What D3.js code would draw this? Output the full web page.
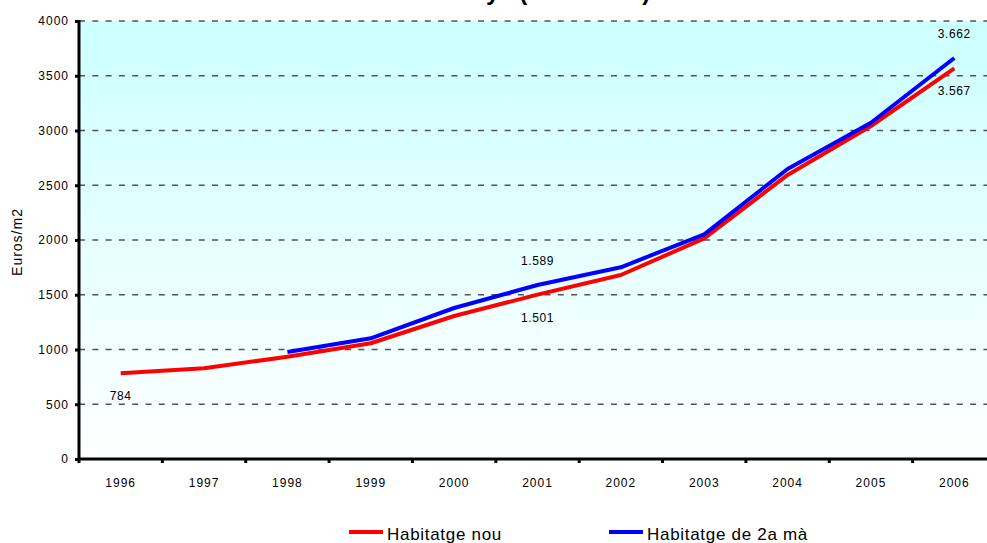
<!DOCTYPE html>
<html>
<head>
<meta charset="utf-8">
<script src="https://cdn.jsdelivr.net/npm/d3@7"></script>
<style>
  body { margin: 0; background: #fff; }
  svg { display: block; font-family: Arial, "Liberation Sans", sans-serif; }
</style>
</head>
<body>
<svg id="chart" width="987" height="543"></svg>
<script>
// preu mitjà per m2
const years = [1996, 1997, 1998, 1999, 2000, 2001, 2002, 2003, 2004, 2005, 2006];
const habitatgeNou = [784, 828, 934, 1057, 1306, 1501, 1680, 2015, 2594, 3041, 3567];
const habitatge2a = [null, null, 977, 1102, 1379, 1589, 1751, 2052, 2648, 3071, 3662];
const yTicks = [0, 500, 1000, 1500, 2000, 2500, 3000, 3500, 4000];
const labelYearsNou = [1996, 2001, 2006];
const labelYears2a = [2001, 2006];
const seriesNames = ['Habitatge nou', 'Habitatge de 2a mà'];

const svg = d3.select('#chart');
const plotLeft = 79, plotRight = 996, plotTop = 21, plotBottom = 459;

const ca = d3.formatLocale({ decimal: ',', thousands: '.', grouping: [3], currency: ['', ' €'] });
const fmt = ca.format(',d');

const x = d3.scaleBand().domain(years).range([plotLeft, plotRight]).padding(0);
const cx = d => x(d) + x.bandwidth() / 2;
const y = d3.scaleLinear().domain([0, 4000]).range([plotBottom, plotTop]);

// title (only its bottom edge is in the picture)
svg.append('text')
  .attr('x', 398).attr('y', 0)
  .attr('font-size', '24px').attr('font-weight', 'bold')
  .attr('fill', '#000')
  .text('Catalunya (1996-2006)');

const grad = svg.append('defs').append('linearGradient')
  .attr('id', 'bg').attr('x1', 0).attr('y1', 0).attr('x2', 0).attr('y2', 1);
grad.append('stop').attr('offset', '0%').attr('stop-color', '#ccffff');
grad.append('stop').attr('offset', '100%').attr('stop-color', '#ffffff');

svg.append('rect')
  .attr('x', plotLeft).attr('y', plotTop)
  .attr('width', plotRight - plotLeft).attr('height', plotBottom - plotTop)
  .attr('fill', 'url(#bg)');

// gridlines
svg.append('g').selectAll('line')
  .data(yTicks.filter(t => t > 0))
  .enter().append('line')
  .attr('x1', plotLeft).attr('x2', plotRight)
  .attr('y1', d => y(d)).attr('y2', d => y(d))
  .attr('stroke', '#4d5555').attr('stroke-width', 1.3)
  .attr('stroke-dasharray', '6,7.3');

// y axis
const yAxis = svg.append('g')
  .attr('transform', `translate(${plotLeft},0)`)
  .call(d3.axisLeft(y).tickValues(yTicks).tickFormat(d3.format('d')).tickSize(4).tickPadding(6));
yAxis.select('.domain').remove();
yAxis.selectAll('.tick line').attr('stroke', '#000').attr('stroke-width', 3);
yAxis.selectAll('.tick text')
  .attr('font-size', '12px').attr('font-family', 'Arial, "Liberation Sans", sans-serif')
  .attr('letter-spacing', '1px').attr('fill', '#000');
svg.append('line')
  .attr('x1', plotLeft).attr('x2', plotLeft).attr('y1', plotTop - 1).attr('y2', plotBottom + 1)
  .attr('stroke', '#000').attr('stroke-width', 3);

svg.append('text')
  .attr('transform', `translate(22,${(plotTop + plotBottom) / 2 + 2}) rotate(-90)`)
  .attr('text-anchor', 'middle')
  .attr('font-size', '14px').attr('letter-spacing', '1px')
  .text('Euros/m2');

// x axis
const xAxis = svg.append('g')
  .attr('transform', `translate(0,${plotBottom})`)
  .call(d3.axisBottom(x).tickSize(0).tickPadding(19));
xAxis.select('.domain').remove();
xAxis.selectAll('.tick text')
  .attr('font-size', '12px').attr('font-family', 'Arial, "Liberation Sans", sans-serif')
  .attr('letter-spacing', '1px').attr('fill', '#000');
svg.append('g').selectAll('line')
  .data(years.concat(['end']))
  .enter().append('line')
  .attr('x1', (d, i) => plotLeft + i * x.bandwidth())
  .attr('x2', (d, i) => plotLeft + i * x.bandwidth())
  .attr('y1', plotBottom).attr('y2', plotBottom + 4)
  .attr('stroke', '#000').attr('stroke-width', 3);
svg.append('line')
  .attr('x1', plotLeft - 1).attr('x2', plotRight).attr('y1', plotBottom).attr('y2', plotBottom)
  .attr('stroke', '#000').attr('stroke-width', 3);

// lines
const line = d3.line()
  .defined(d => d.v != null)
  .x(d => cx(d.year)).y(d => y(d.v));

const nouPts = years.map((yr, i) => ({ year: yr, v: habitatgeNou[i] }));
const segPts = years.map((yr, i) => ({ year: yr, v: habitatge2a[i] }));

svg.append('path').datum(nouPts)
  .attr('d', line).attr('fill', 'none')
  .attr('stroke', '#ff0000').attr('stroke-width', 4)
  .attr('stroke-linejoin', 'round');
svg.append('path').datum(segPts)
  .attr('d', line).attr('fill', 'none')
  .attr('stroke', '#0000ff').attr('stroke-width', 4)
  .attr('stroke-linejoin', 'round');

// data labels
svg.append('g').selectAll('text')
  .data(nouPts.filter(d => labelYearsNou.includes(d.year)))
  .enter().append('text')
  .attr('x', d => cx(d.year)).attr('y', d => y(d.v) + 27)
  .attr('text-anchor', 'middle')
  .attr('font-size', '12px').attr('letter-spacing', '0.6px')
  .text(d => fmt(d.v));
svg.append('g').selectAll('text')
  .data(segPts.filter(d => labelYears2a.includes(d.year)))
  .enter().append('text')
  .attr('x', d => cx(d.year)).attr('y', d => y(d.v) - 20)
  .attr('text-anchor', 'middle')
  .attr('font-size', '12px').attr('letter-spacing', '0.6px')
  .text(d => fmt(d.v));

// legend
const legend = svg.append('g').selectAll('g')
  .data(seriesNames)
  .enter().append('g')
  .attr('transform', (d, i) => `translate(${i === 0 ? 349 : 609},532)`);
legend.append('line')
  .attr('x1', 0).attr('x2', 34).attr('y1', 0).attr('y2', 0)
  .attr('stroke', (d, i) => i === 0 ? '#ff0000' : '#0000ff')
  .attr('stroke-width', 4);
legend.append('text')
  .attr('x', 38).attr('y', 8)
  .attr('font-size', '17px').attr('letter-spacing', '0.7px')
  .text(d => d);
</script>
</body>
</html>
